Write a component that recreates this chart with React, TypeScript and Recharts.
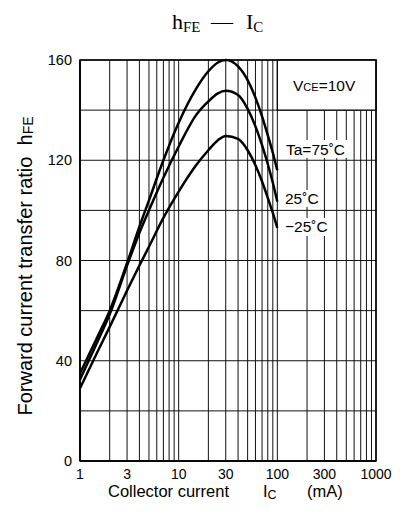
import React from "react";
import {
  LineChart, Line, XAxis, YAxis, CartesianGrid, ReferenceArea
} from "recharts";

// collector current (mA)
const currents = [1, 1.5, 2, 3, 4, 5, 7, 10, 15, 20, 25, 30, 40, 50, 60, 70, 80, 90, 100];

// hFE
const hfe75 = [35, 49.5, 60, 79, 93.5, 104, 120, 135, 148.5, 155.5, 159, 160, 157.5, 152, 145, 137.5, 130, 123, 116];
const hfe25 = [32.5, 47.5, 58.5, 78, 91, 100, 113, 125.5, 138, 143.5, 146.7, 147.7, 146, 140.5, 133.5, 126, 118.5, 111, 103.5];
const hfeMinus25 = [29, 43.5, 53.5, 68, 78, 85.5, 97, 107.5, 118, 124, 128, 129.7, 128.5, 124, 118, 111.5, 105, 99, 93];

const xGridTicks = [
  1, 2, 3, 4, 5, 6, 7, 8, 9,
  10, 20, 30, 40, 50, 60, 70, 80, 90,
  100, 200, 300, 400, 500, 600, 700, 800, 900, 1000
];
const xLabels = [1, 3, 10, 30, 100, 300, 1000];
const yGridTicks = [0, 20, 40, 60, 80, 100, 120, 140, 160];
const yLabels = [0, 40, 80, 120, 160];

const data = currents.map((ic, i) => ({
  ic,
  t75: hfe75[i],
  t25: hfe25[i],
  tm25: hfeMinus25[i]
}));

const SANS = "'Liberation Sans', Arial, sans-serif";
const SERIF = "'Liberation Serif', 'Times New Roman', serif";

// texts drawn over the chart
const Overlay = () => (
  <svg
    width={402}
    height={523}
    style={{ position: "absolute", left: 0, top: 0, pointerEvents: "none" }}
  >
    {/* title */}
    <text y={29} fontFamily={SERIF} fontSize={22} fill="#000">
      <tspan x={172}>h</tspan>
      <tspan fontSize={15} dy={3}>FE</tspan>
      <tspan x={211} dy={-3}>—</tspan>
      <tspan x={246}>I</tspan>
      <tspan fontSize={15} dy={3}>C</tspan>
    </text>

    {/* y axis title */}
    <text
      transform="translate(32,266) rotate(-90)"
      textAnchor="middle"
      fontFamily={SANS}
      fontSize={20}
      fill="#000"
    >
      Forward current transfer ratio{"\u00a0\u00a0"}h
      <tspan fontSize={14} dy={1}>FE</tspan>
    </text>

    {/* x axis title */}
    <text y={497} fontFamily={SANS} fontSize={16.5} fill="#000">
      <tspan x={108}>Collector current</tspan>
      <tspan x={263}>I</tspan>
      <tspan fontSize={12.5} dy={2}>C</tspan>
      <tspan x={307} dy={-2}>(mA)</tspan>
    </text>

    {/* VCE box text */}
    <text x={293} y={91} fontFamily={SANS} fontSize={15.5} fill="#000">
      V<tspan fontSize={11}>CE</tspan>=10V
    </text>

    {/* temperature labels */}
    <rect x={284} y={140} width={66} height={18} fill="#fff" />
    <text x={286} y={155} fontFamily={SANS} fontSize={15.5} fill="#000">Ta=75˚C</text>
    <rect x={283} y={190} width={39} height={17} fill="#fff" />
    <text x={285} y={204} fontFamily={SANS} fontSize={15.5} fill="#000">25˚C</text>
    <rect x={283} y={218} width={49} height={18} fill="#fff" />
    <text x={285} y={232} fontFamily={SANS} fontSize={15.5} fill="#000">−25˚C</text>
  </svg>
);

export default function App() {
  return (
    <div style={{ position: "absolute", left: 0, top: 0, width: 402, height: 523, background: "#fff" }}>
      <LineChart
        width={402}
        height={523}
        data={data}
        margin={{ top: 60, right: 26, bottom: 32, left: 30 }}
      >
        <CartesianGrid stroke="#111" strokeWidth={1} />
        <XAxis
          dataKey="ic"
          type="number"
          scale="log"
          domain={[1, 1000]}
          ticks={xGridTicks}
          allowDataOverflow
          height={30}
          tickLine={false}
          axisLine={{ stroke: "#000", strokeWidth: 1.5 }}
          tick={{ fill: "#000", fontFamily: SANS, fontSize: 14 }}
          tickFormatter={(v: number) => (xLabels.includes(v) ? String(v) : "")}
          interval={0}
        />
        <YAxis
          type="number"
          domain={[0, 160]}
          ticks={yGridTicks}
          width={50}
          tickLine={false}
          axisLine={{ stroke: "#000", strokeWidth: 1.5 }}
          tick={{ fill: "#000", fontFamily: SANS, fontSize: 14.5 }}
          tickFormatter={(v: number) => (yLabels.includes(v) ? String(v) : "")}
          interval={0}
        />
        <ReferenceArea
          x1={100}
          x2={1000}
          y1={140}
          y2={160}
          fill="#fff"
          fillOpacity={1}
          stroke="#000"
          strokeWidth={1.2}
        />
        <ReferenceArea
          x1={1}
          x2={1000}
          y1={0}
          y2={160}
          fill="none"
          stroke="#000"
          strokeWidth={1.5}
        />
        <Line dataKey="t75" type="monotone" stroke="#000" strokeWidth={2.5} dot={false} isAnimationActive={false} />
        <Line dataKey="t25" type="monotone" stroke="#000" strokeWidth={2.5} dot={false} isAnimationActive={false} />
        <Line dataKey="tm25" type="monotone" stroke="#000" strokeWidth={2.5} dot={false} isAnimationActive={false} />
      </LineChart>
      <Overlay />
    </div>
  );
}
